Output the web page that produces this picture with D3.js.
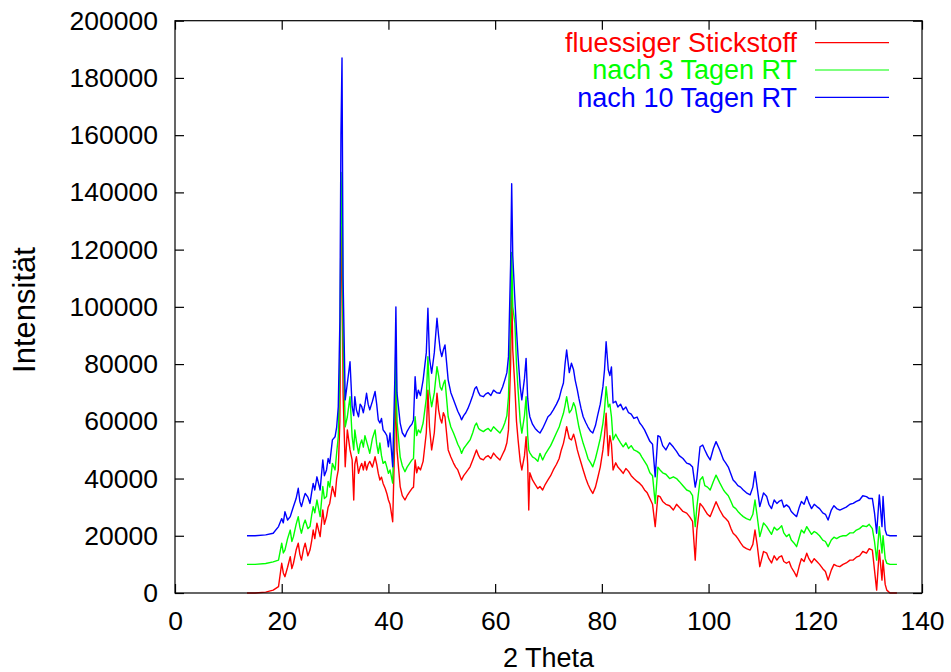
<!DOCTYPE html>
<html>
<head>
<meta charset="utf-8">
<script src="https://cdn.jsdelivr.net/npm/d3@7"></script>
<style>
  body { margin: 0; background: #fff; }
  text { font-family: "Liberation Sans", Arial, sans-serif; }
</style>
</head>
<body>
<div id="chart"></div>
<script>
// 2 Theta positions (shared by all three scans), rows of 10
const twoTheta = [
  13.5, 15, 17, 18.4, 19.4, 20, 20.3, 20.6, 21.1, 21.6,
  21.9, 22.2, 22.7, 23.1, 23.4, 23.7, 24.1, 24.4, 24.9, 25.3,
  25.6, 25.9, 26.2, 26.6, 27.2, 27.7, 28, 28.4, 28.7, 29,
  29.5, 30, 30.3, 30.6, 30.9, 31.1, 31.3, 31.5, 31.9, 32.3,
  32.8, 33.2, 33.5, 33.7, 34, 34.4, 34.7, 35, 35.3, 35.6,
  35.9, 36.2, 36.5, 37, 37.5, 37.8, 38.1, 38.4, 38.7, 39,
  39.4, 39.7, 40, 40.3, 40.8, 41.2, 41.4, 41.6, 42.2, 42.6,
  43.1, 43.5, 44, 44.4, 44.7, 45, 45.3, 45.6, 46, 46.5,
  47.1, 47.4, 47.7, 48.1, 48.6, 49.1, 49.4, 49.7, 50, 50.3,
  50.6, 51.2, 51.7, 52.2, 52.6, 53, 53.4, 53.7, 54.1, 54.5,
  54.9, 55.3, 55.8, 56.2, 56.5, 56.9, 57.2, 57.8, 58.2, 58.7,
  59.2, 59.7, 60.3, 60.9, 61.4, 61.8, 62.2, 62.5, 62.9, 63.1,
  63.3, 63.7, 64, 64.3, 64.7, 65, 65.5, 65.8, 66.1, 66.3,
  66.5, 67, 67.5, 68, 68.4, 68.9, 69.4, 69.9, 70.4, 70.9,
  71.5, 72, 72.4, 72.8, 73.1, 73.4, 73.9, 74.3, 74.7, 75,
  75.4, 75.7, 76.1, 76.5, 77, 77.4, 77.9, 78.3, 78.8, 79.2,
  79.7, 80.2, 80.5, 80.8, 81.2, 81.5, 81.8, 82.1, 82.6, 83,
  83.5, 84, 84.5, 85, 85.5, 86, 86.6, 87.1, 87.5, 88,
  88.5, 89, 89.5, 90, 90.5, 90.9, 91.4, 92, 92.7, 93.4,
  94, 94.5, 95.2, 95.9, 96.5, 97, 97.5, 97.8, 98.4, 98.9,
  99.3, 99.8, 100.3, 100.9, 101.4, 102.1, 102.8, 103.2, 103.7, 104.2,
  104.6, 105.1, 105.5, 106, 106.5, 107.1, 107.8, 108.3, 108.7, 109.1,
  109.6, 110.3, 110.9, 111.3, 111.8, 112.3, 112.8, 113.2, 113.7, 114.1,
  114.6, 115.1, 115.5, 116, 116.5, 117, 117.4, 117.9, 118.4, 118.8,
  119.3, 119.8, 120.3, 120.8, 121.4, 121.9, 122.4, 123, 123.5, 124,
  124.6, 125.2, 125.8, 126.5, 127.1, 127.7, 128.3, 128.9, 129.6, 130.1,
  130.7, 131.1, 131.5, 132, 132.5, 132.7, 133.1, 133.4, 134, 135.3];

// fluessiger Stickstoff
const stickstoff = [
  0, 0, 300, 1000, 2200, 10400, 7000, 5700, 9000, 12700,
  8500, 10400, 15000, 17400, 13500, 11500, 15500, 17400, 13000, 15000,
  18000, 22000, 19000, 24400, 19700, 29000, 24000, 26700, 30000, 31300,
  37200, 33700, 40000, 43000, 60000, 110000, 128000, 70000, 44100, 57000,
  50000, 46500, 32500, 45000, 47600, 41800, 44000, 45300, 43000, 46000,
  43000, 45000, 46000, 44000, 47600, 45000, 41800, 39500, 40500, 38300,
  36500, 34800, 32500, 31000, 24900, 55000, 72000, 50000, 37200, 34000,
  32500, 34000, 35400, 36500, 37000, 46500, 42000, 44100, 43000, 46000,
  56000, 70900, 58000, 50000, 56000, 69800, 64000, 61000, 59400, 63000,
  61600, 50000, 47500, 45400, 44000, 43000, 41000, 39500, 41000, 42000,
  43000, 44100, 46500, 48500, 50000, 48000, 47000, 46500, 47500, 48000,
  47000, 48900, 47500, 46500, 48500, 50000, 52500, 57000, 80000, 108000,
  85000, 72100, 60000, 53500, 46000, 43000, 48000, 54600, 45000, 29000,
  42000, 39500, 38000, 36500, 37200, 36000, 38000, 39500, 41000, 43000,
  45000, 47000, 50000, 52300, 55000, 58100, 54000, 53500, 55500, 53500,
  50000, 48000, 45500, 43000, 40000, 38000, 36000, 34800, 37000, 40000,
  44000, 50000, 55000, 62800, 48000, 55000, 52000, 43000, 45500, 44000,
  43000, 41800, 43500, 42500, 41000, 40000, 39000, 38300, 37500, 36000,
  35000, 33000, 31000, 23200, 34000, 33700, 32000, 31000, 30500, 29000,
  31000, 30000, 28500, 27900, 26500, 25000, 11500, 22000, 31300, 30200,
  29000, 27500, 26700, 29500, 31900, 29000, 26700, 26000, 25000, 22500,
  20900, 20000, 19000, 17500, 16200, 15500, 15000, 17000, 22000, 17000,
  9200, 14500, 13900, 12000, 10500, 13000, 11500, 12500, 13000, 11000,
  10400, 11000, 9000, 7500, 5700, 9500, 12000, 11000, 13900, 12000,
  10500, 12000, 11000, 10000, 8500, 7500, 4500, 8000, 10000, 9500,
  9200, 10000, 10500, 11500, 11500, 12500, 13000, 14500, 13900, 15500,
  15000, 8000, 1000, 15000, 4500, 11500, 3000, 1000, 0, 0];

// nach 3 Tagen RT
const tage3 = [
  10000, 10000, 10300, 10900, 11500, 17400, 14000, 15000, 19000, 22000,
  18000, 19700, 24000, 26700, 23000, 20900, 24000, 25500, 22500, 23200,
  27000, 30200, 28000, 32500, 26700, 37200, 33000, 33700, 39000, 37000,
  45300, 43000, 49000, 54600, 80000, 130000, 147000, 90000, 58100, 61600,
  68600, 54600, 50000, 57000, 53000, 48800, 52000, 53500, 51000, 55000,
  53000, 51000, 48800, 54000, 57000, 52000, 48800, 52400, 48000, 45300,
  46000, 44000, 41800, 43000, 38400, 65000, 88000, 60000, 47600, 44500,
  42400, 44000, 45400, 46500, 47000, 61600, 55000, 57000, 56000, 59400,
  68000, 82600, 70000, 65100, 70000, 79100, 76000, 72000, 70900, 73000,
  74400, 61600, 58000, 55900, 54000, 52000, 50500, 48800, 50500, 51500,
  52500, 53500, 56000, 58500, 59400, 57500, 57000, 56400, 57000, 57500,
  56500, 58100, 57000, 55900, 57500, 59400, 62000, 68600, 95000, 119000,
  100000, 94300, 80000, 70900, 60000, 55900, 62000, 68600, 55000, 50000,
  49000, 47600, 47000, 46000, 48800, 46500, 48500, 50000, 51500, 53500,
  56000, 58000, 60500, 62800, 65500, 68600, 63000, 64000, 66500, 65100,
  61000, 58000, 55000, 52300, 49500, 47000, 45500, 44100, 47000, 50000,
  54000, 59300, 64000, 72100, 65000, 66000, 61600, 53500, 55500, 54000,
  52500, 51100, 52500, 50500, 51500, 50000, 49500, 48800, 47500, 46000,
  44500, 42000, 41000, 31300, 44000, 43000, 42000, 41500, 40000, 40600,
  40000, 39000, 37500, 36000, 35500, 34000, 23200, 30000, 39500, 40600,
  37500, 37000, 36000, 39000, 41200, 38500, 36000, 35000, 34000, 32000,
  30200, 29500, 28500, 27500, 26700, 26000, 25500, 27500, 32500, 27000,
  19700, 24500, 23200, 22000, 20500, 23000, 22000, 22500, 23500, 21000,
  19700, 20500, 18500, 17500, 16200, 19500, 22000, 21000, 23200, 22000,
  20500, 21500, 20900, 20000, 18500, 18000, 16200, 18500, 19500, 19000,
  19700, 20000, 20000, 21000, 21000, 22000, 22500, 23500, 23200, 24000,
  22500, 18000, 11500, 23200, 14000, 20000, 12000, 10400, 10000, 10000];

// nach 10 Tagen RT
const tage10 = [
  20000, 20000, 20300, 20900, 23200, 26000, 24500, 28400, 25500, 26700,
  28500, 30200, 33000, 36600, 32000, 30200, 33000, 34800, 33500, 31300,
  35000, 38300, 36000, 40600, 36000, 46500, 41000, 43000, 47000, 45300,
  53500, 54600, 58000, 65100, 95000, 160000, 187000, 110000, 67500, 73300,
  80800, 65100, 62000, 68600, 64000, 61600, 66000, 65100, 63000, 66000,
  69800, 66000, 64000, 67000, 70400, 66000, 60500, 59400, 61000, 57000,
  56000, 55000, 51100, 55900, 44100, 75000, 100000, 70000, 59400, 56000,
  54600, 56500, 58100, 59000, 60500, 75600, 68000, 70900, 69000, 74400,
  84000, 99500, 82000, 76800, 84000, 96000, 90000, 85000, 82600, 85000,
  86700, 74400, 70000, 67500, 65500, 63500, 62000, 60500, 62000, 63000,
  64500, 66400, 69000, 71500, 72100, 70000, 69000, 68600, 69500, 70000,
  69000, 70900, 70000, 69800, 72000, 74400, 77000, 82600, 115000, 143000,
  118000, 102400, 92000, 82600, 72000, 67500, 75000, 82000, 68000, 64000,
  61600, 59000, 57500, 56500, 55900, 57500, 59500, 61600, 62500, 64000,
  66000, 68000, 71000, 73400, 80000, 84900, 77000, 80300, 78000, 74400,
  71000, 68000, 64500, 61600, 59500, 58000, 56500, 55900, 58500, 62000,
  66000, 72100, 78000, 87800, 78000, 76000, 79000, 66400, 67000, 65000,
  66000, 64000, 65000, 63000, 62500, 61000, 61500, 59400, 58500, 57000,
  55000, 53000, 52000, 40600, 55000, 54600, 51500, 50000, 52500, 51000,
  49500, 48000, 47000, 45400, 45000, 44000, 37000, 40000, 51100, 51700,
  50000, 48000, 46500, 50500, 52900, 50000, 46500, 45500, 44000, 41500,
  39500, 38500, 37500, 37000, 36000, 35000, 34300, 37000, 42400, 37000,
  30200, 35000, 33700, 31000, 29500, 32500, 31300, 32000, 32500, 30000,
  30800, 30000, 28500, 27500, 26700, 30000, 32000, 31000, 33700, 31500,
  29500, 31000, 30200, 29500, 28000, 27500, 25500, 29000, 30500, 29500,
  29000, 29500, 30000, 31000, 31300, 32000, 32500, 34000, 33700, 33000,
  33000, 28000, 20900, 34300, 23200, 33700, 22000, 20300, 20000, 20000];

const seriesNames = ["fluessiger Stickstoff", "nach 3 Tagen RT", "nach 10 Tagen RT"];
const seriesColors = ["#ff0000", "#00ff00", "#0000ff"];
const xTicks = [0, 20, 40, 60, 80, 100, 120, 140];
const yTicks = [0, 20000, 40000, 60000, 80000, 100000, 120000, 140000, 160000, 180000, 200000];

const width = 951, height = 672;
const plot = { left: 175, right: 922, top: 20.7, bottom: 593 };

const svg = d3.select("#chart").append("svg")
  .attr("width", width)
  .attr("height", height);

const x = d3.scaleLinear().domain([0, 140]).range([plot.left, plot.right]);
const y = d3.scaleLinear().domain([0, 200000]).range([plot.bottom, plot.top]);

// series
const allSeries = [stickstoff, tage3, tage10];
const line = d3.line()
  .x((d, i) => x(twoTheta[i]))
  .y(d => y(d));

allSeries.forEach((vals, k) => {
  svg.append("path")
    .datum(vals)
    .attr("fill", "none")
    .attr("stroke", seriesColors[k])
    .attr("stroke-width", 1.4)
    .attr("stroke-linejoin", "round")
    .attr("d", line);
});

// axes (ticks point inward, mirrored on top/right)
const fontSize = 26.5;
const gx = svg.append("g")
  .attr("transform", "translate(0," + plot.bottom + ")")
  .call(d3.axisBottom(x).tickValues(xTicks).tickSizeInner(-9).tickSizeOuter(0).tickPadding(18));
const gy = svg.append("g")
  .attr("transform", "translate(" + plot.left + ",0)")
  .call(d3.axisLeft(y).tickValues(yTicks).tickFormat(d3.format("d")).tickSizeInner(-9).tickSizeOuter(0).tickPadding(17));
const gxt = svg.append("g")
  .attr("transform", "translate(0," + plot.top + ")")
  .call(d3.axisTop(x).tickValues(xTicks).tickFormat("").tickSizeInner(-9).tickSizeOuter(0));
const gyr = svg.append("g")
  .attr("transform", "translate(" + plot.right + ",0)")
  .call(d3.axisRight(y).tickValues(yTicks).tickFormat("").tickSizeInner(-9).tickSizeOuter(0));

[gx, gy, gxt, gyr].forEach(g => {
  g.select(".domain").remove();
  g.selectAll("line").attr("stroke", "#000").attr("stroke-width", 1.2);
  g.selectAll("text")
    .attr("fill", "#000")
    .style("font-size", fontSize + "px")
    .style("font-family", "'Liberation Sans', Arial, sans-serif");
});

svg.append("rect")
  .attr("x", plot.left)
  .attr("y", plot.top)
  .attr("width", plot.right - plot.left)
  .attr("height", plot.bottom - plot.top)
  .attr("fill", "none")
  .attr("stroke", "#000")
  .attr("stroke-width", 1.2);

// axis titles
svg.append("text")
  .attr("x", (plot.left + plot.right) / 2)
  .attr("y", 667)
  .attr("text-anchor", "middle")
  .style("font-size", "27px")
  .text("2 Theta");

svg.append("text")
  .attr("transform", "translate(35,310) rotate(-90)")
  .attr("text-anchor", "middle")
  .style("font-size", "31px")
  .text("Intensität");

// legend
const legend = svg.append("g");
seriesNames.forEach((name, k) => {
  const ly = 42.7 + k * 27.3;
  legend.append("text")
    .attr("x", 797)
    .attr("y", ly)
    .attr("dy", "0.35em")
    .attr("text-anchor", "end")
    .attr("fill", seriesColors[k])
    .style("font-size", "27px")
    .text(name);
  legend.append("line")
    .attr("x1", 815).attr("x2", 889)
    .attr("y1", ly).attr("y2", ly)
    .attr("stroke", seriesColors[k])
    .attr("stroke-width", 1.2);
});
</script>
</body>
</html>
